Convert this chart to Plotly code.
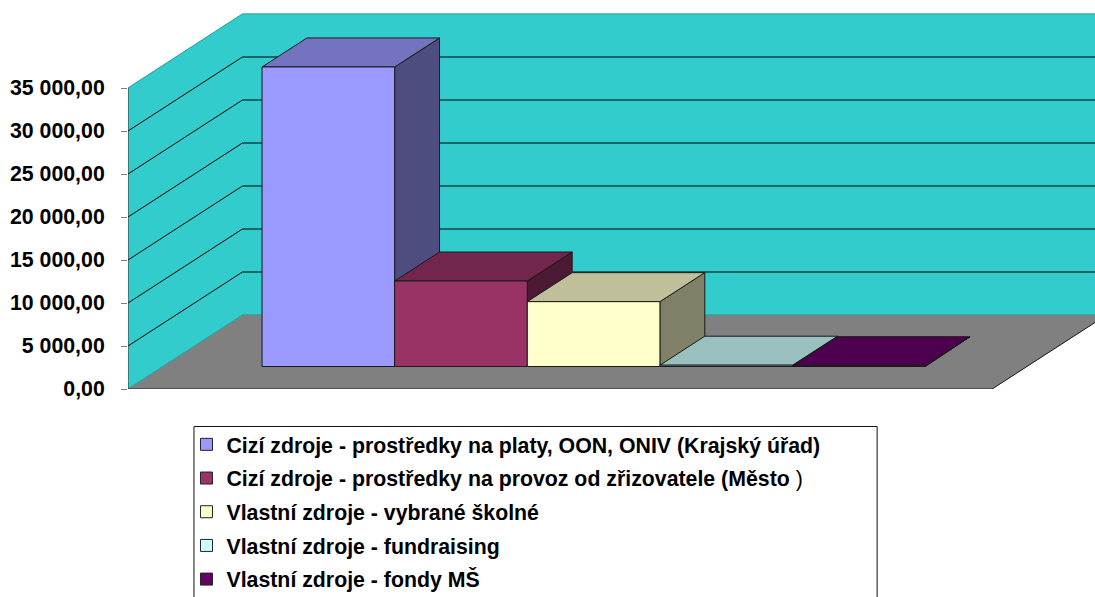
import plotly.graph_objects as go

# ---- data ----
categories = [
    "<b>Cizí zdroje - prostředky na platy, OON, ONIV (Krajský úřad)</b>",
    "<b>Cizí zdroje - prostředky na provoz od zřizovatele (Město</b> )",
    "<b>Vlastní zdroje - vybrané školné</b>",
    "<b>Vlastní zdroje - fundraising</b>",
    "<b>Vlastní zdroje - fondy MŠ</b>",
]
values = [34830, 9940, 7540, 150, 90]
tick_values = [0, 5000, 10000, 15000, 20000, 25000, 30000, 35000]
tick_labels = ["0,00", "5 000,00", "10 000,00", "15 000,00", "20 000,00", "25 000,00", "30 000,00", "35 000,00"]

front_colors = ["#9999FF", "#993366", "#FFFFCC", "#CCFFFF", "#660066"]
top_colors = ["#7373BF", "#73264D", "#BFBF99", "#99BFBF", "#4D004D"]
side_colors = ["#4D4D80", "#4D1A33", "#808066", "#668080", "#330033"]

# ---- layout of the oblique projection (one category cluster of five bars) ----
W, H = 1095, 597
LEFT, BOTTOM_PX = 127.5, 389
PX_PER_X = 864.5
PX_PER_Y = 0.0086
DEPTH_X = 114.5 / PX_PER_X
DEPTH_Y = 74 / PX_PER_Y
N = len(values)
BAR_W = 132.7 / PX_PER_X
GAP = (1 - N * BAR_W) / 2 - 1.2 / PX_PER_X
FRONT_D, BAR_D = 0.304, 0.392
TOP = max(tick_values)
FONT = "Liberation Sans, Arial, sans-serif"
FS = 21.3

fig = go.Figure()


def poly(xs, ys, fill, line="#1a1a1a", width=1):
    fig.add_trace(go.Scatter(
        x=xs + xs[:1], y=ys + ys[:1], mode="lines", fill="toself", fillcolor=fill,
        line=dict(color=line, width=width), hoverinfo="skip", showlegend=False,
    ))


def seg(xs, ys, color="#000000", width=1):
    fig.add_trace(go.Scatter(x=xs, y=ys, mode="lines", line=dict(color=color, width=width),
                             hoverinfo="skip", showlegend=False))


WALL_FILL = "#33CCCC"
WALL_EDGE = "#2BA3A3"
# left wall, back wall, floor
poly([0, DEPTH_X, DEPTH_X, 0], [0, DEPTH_Y, TOP + DEPTH_Y, TOP], WALL_FILL, WALL_FILL)
poly([DEPTH_X, 1 + DEPTH_X, 1 + DEPTH_X, DEPTH_X], [DEPTH_Y, DEPTH_Y, TOP + DEPTH_Y, TOP + DEPTH_Y], WALL_FILL, WALL_FILL)
poly([0, 1, 1 + DEPTH_X, DEPTH_X], [0, 0, DEPTH_Y, DEPTH_Y], "#808080", "#808080")
# wall outer edges
seg([0, DEPTH_X, 1 + DEPTH_X], [TOP, TOP + DEPTH_Y, TOP + DEPTH_Y], WALL_EDGE)
seg([0, DEPTH_X, 1 + DEPTH_X], [0, DEPTH_Y, DEPTH_Y], WALL_EDGE)

# gridlines on both walls
for v in tick_values[1:-1]:
    seg([0, DEPTH_X, 1 + DEPTH_X], [v, v + DEPTH_Y, v + DEPTH_Y])
# axis line and floor front / right edges
seg([0, 0], [0, TOP], "#333333")
seg([0, 1, 1 + DEPTH_X], [0, 0, DEPTH_Y], "#222222")

# bars, left to right
ox, oy = FRONT_D * DEPTH_X, FRONT_D * DEPTH_Y
bx, by = BAR_D * DEPTH_X, BAR_D * DEPTH_Y
for i, v in enumerate(values):
    x0 = GAP + ox + i * BAR_W
    x1 = x0 + BAR_W
    # right side
    poly([x1, x1 + bx, x1 + bx, x1], [oy, oy + by, oy + by + v, oy + v], side_colors[i])
    # top
    poly([x0, x1, x1 + bx, x0 + bx], [oy + v, oy + v, oy + by + v, oy + by + v], top_colors[i])
    # front
    poly([x0, x1, x1, x0], [oy, oy, oy + v, oy + v], front_colors[i])

# legend entries
for i, name in enumerate(categories):
    fig.add_trace(go.Scatter(
        x=[None], y=[None], mode="markers", name=name, legendgroup=str(i),
        marker=dict(symbol="square", size=12, color=front_colors[i], line=dict(color="#222222", width=1)),
    ))

plot_w = W - LEFT
fig.add_shape(type="rect", xref="paper", yref="paper",
              x0=(193.5 - LEFT) / plot_w, x1=(877 - LEFT) / plot_w,
              y0=(BOTTOM_PX - 604) / BOTTOM_PX, y1=(BOTTOM_PX - 426.5) / BOTTOM_PX,
              line=dict(color="#111111", width=1), fillcolor="white", layer="below")

fig.update_layout(
    width=W, height=H, autosize=False,
    margin=dict(l=LEFT, r=0, t=0, b=H - BOTTOM_PX, pad=0, autoexpand=False),
    paper_bgcolor="white", plot_bgcolor="white",
    font=dict(family=FONT, size=FS, color="black"),
    xaxis=dict(range=[0, plot_w / PX_PER_X], visible=False, fixedrange=True),
    yaxis=dict(range=[0, BOTTOM_PX / PX_PER_Y], tickmode="array", tickvals=tick_values, ticktext=tick_labels,
               ticks="outside", ticklen=6, tickcolor="#808080", tickwidth=1, showgrid=False, zeroline=False,
               showline=False, ticklabelstandoff=12, fixedrange=True,
               tickfont=dict(family=FONT, size=FS, weight="bold", color="black")),
    legend=dict(x=(186 - LEFT) / plot_w, y=(BOTTOM_PX - 424) / BOTTOM_PX, xanchor="left", yanchor="top",
                bgcolor="rgba(0,0,0,0)", borderwidth=0, tracegroupgap=3, itemclick=False, itemdoubleclick=False,
                font=dict(family=FONT, size=FS, color="black")),
    showlegend=True,
)
fig.write_html("out.html", config={"displayModeBar": False},
               post_script="document.body.style.margin='0';document.body.style.overflow='hidden';")
